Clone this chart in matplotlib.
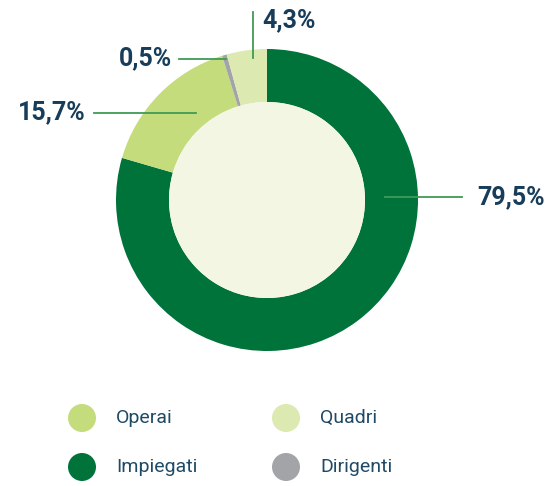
import matplotlib.pyplot as plt
from matplotlib.patches import Circle

# Data
categories = ['Impiegati', 'Operai', 'Dirigenti', 'Quadri']
values = [79.5, 15.7, 0.5, 4.3]
labels = ['79,5%', '15,7%', '0,5%', '4,3%']
colors = ['#00733b', '#c4dc7c', '#a3a4a8', '#dce9b0']

legend_order = ['Operai', 'Quadri', 'Impiegati', 'Dirigenti']

W, H = 548, 486
navy = '#173d5a'
line_green = '#3f9b55'

plt.rcParams['font.family'] = ['Roboto', 'DejaVu Sans']

fig = plt.figure(figsize=(W / 100, H / 100), dpi=100)
ax = fig.add_axes([0, 0, 1, 1])
ax.axis('off')

cx, cy = 267, H - 200
r_out, r_in = 151, 98

ax.pie(values, colors=colors, startangle=90, counterclock=False,
       center=(cx, cy), radius=r_out,
       wedgeprops=dict(width=r_out - r_in, linewidth=0.5, edgecolor='none'))
ax.add_patch(Circle((cx, cy), r_in, facecolor='#f3f6e3', edgecolor='none', zorder=3))
ax.set_xlim(0, W)
ax.set_ylim(0, H)
ax.set_aspect('equal')

# labels with leader lines (pixel positions from top-left)
lab_style = dict(fontsize=18, fontweight='bold', color=navy, va='center')
# 79,5%
ax.plot([385, 462], [H - 197, H - 197], color=line_green, lw=1.3, zorder=4)
ax.text(477, H - 197, labels[0], ha='left', **lab_style)
# 15,7%
ax.plot([94, 196], [H - 113, H - 113], color=line_green, lw=1.3, zorder=4)
ax.text(86, H - 112, labels[1], ha='right', **lab_style)
# 0,5%
ax.plot([179, 226], [H - 59, H - 59], color=line_green, lw=1.3, zorder=4)
ax.text(172, H - 58, labels[2], ha='right', **lab_style)
# 4,3%
ax.plot([253, 253], [H - 12, H - 58], color=line_green, lw=1.3, zorder=4)
ax.text(262, H - 20, labels[3], ha='left', **lab_style)

# legend
leg_pos = {'Operai': (82, 418), 'Quadri': (286, 418),
           'Impiegati': (82, 467), 'Dirigenti': (286, 467)}
for name in legend_order:
    x, y = leg_pos[name]
    col = colors[categories.index(name)]
    ax.add_patch(Circle((x, H - y), 14, facecolor=col, edgecolor='none'))
    ax.text(x + 34, H - y, name, fontsize=14, fontweight='normal',
            color='#1f4a66', va='center', ha='left')

fig.savefig('out.png', dpi=100)
